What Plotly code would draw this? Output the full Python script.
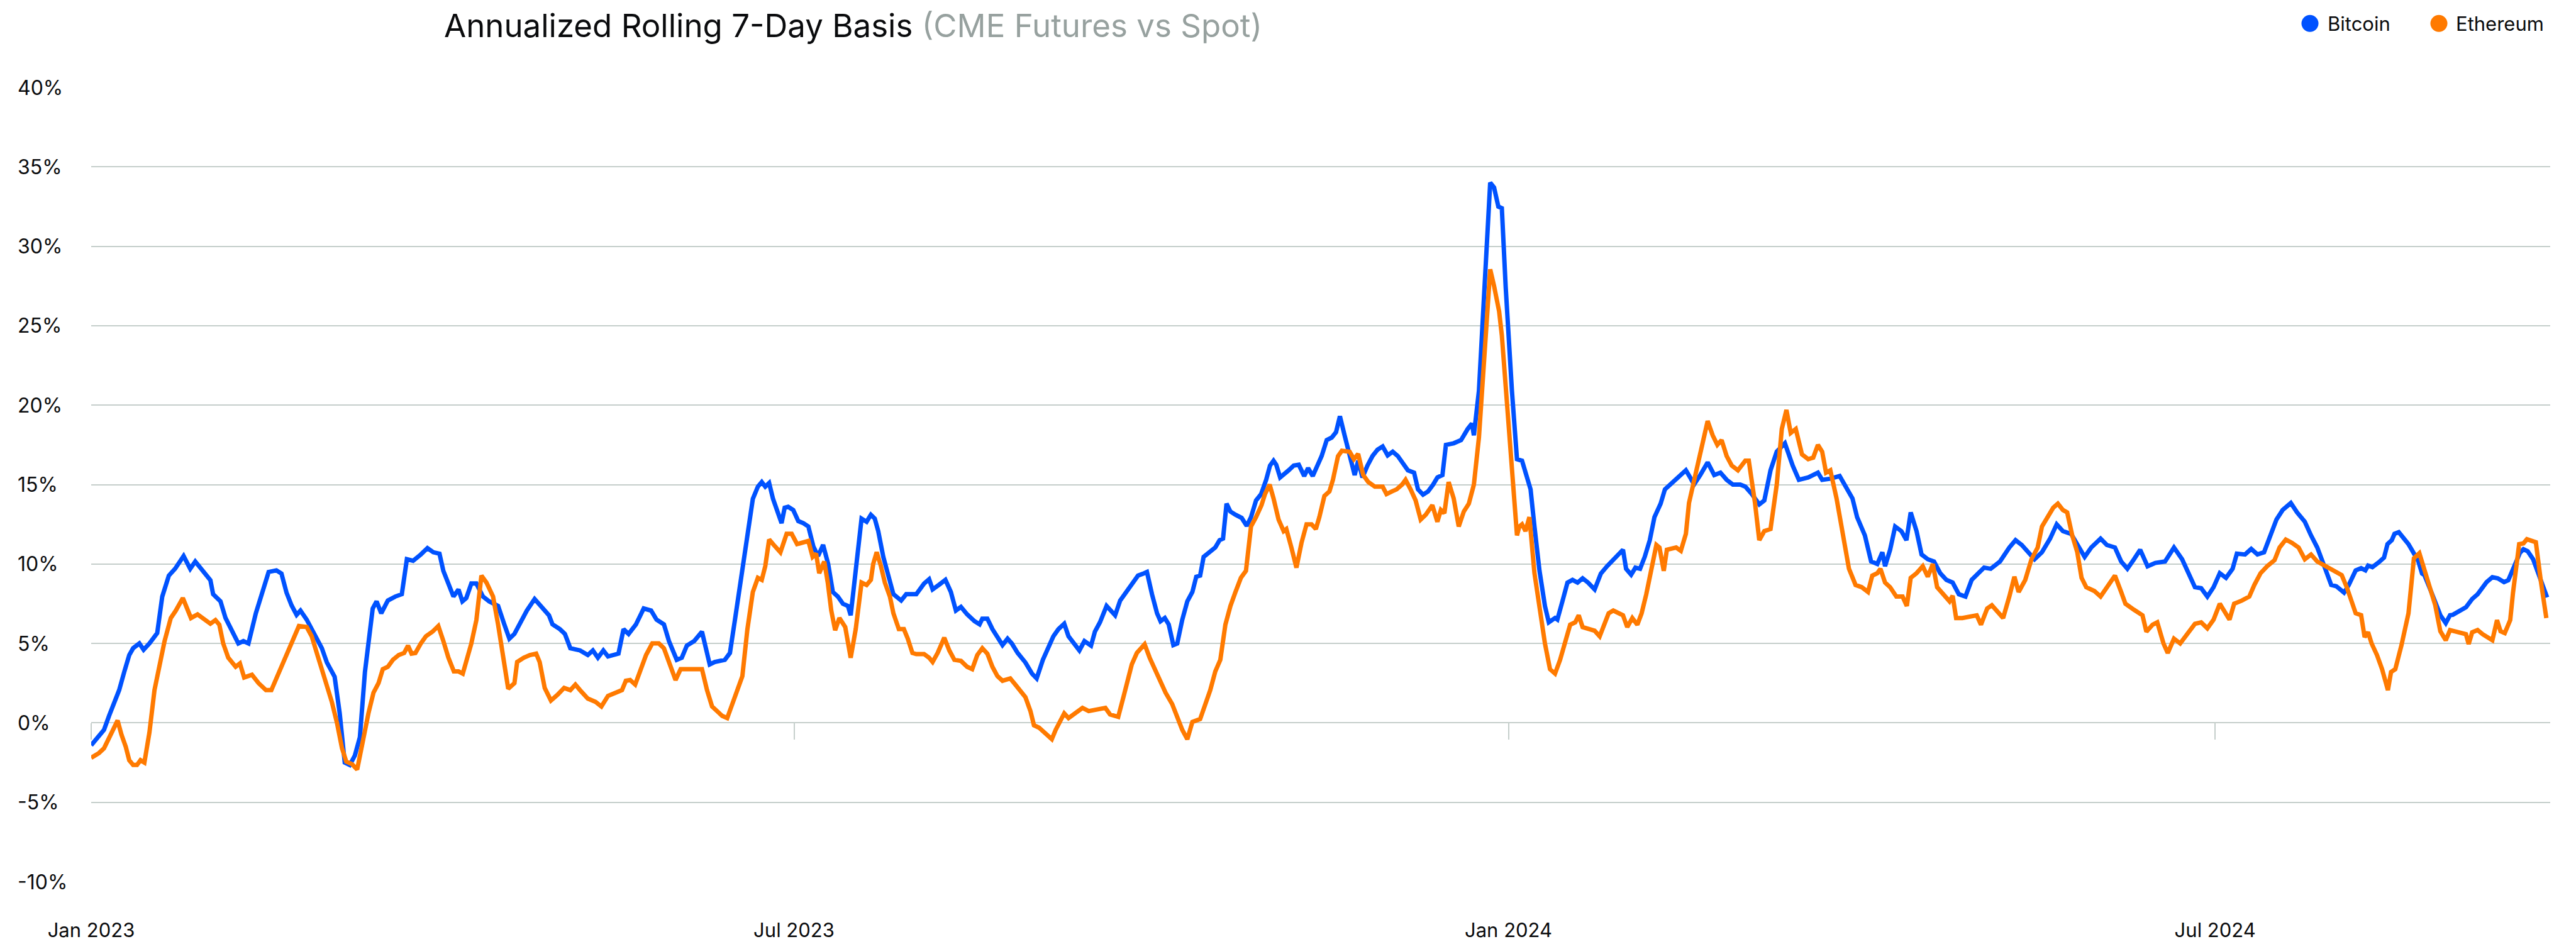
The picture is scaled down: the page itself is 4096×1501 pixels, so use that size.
import numpy as np
import pandas as pd
import plotly.graph_objects as go

# ---------------- data ----------------
start_date = "2023-01-01"
end_offset_days = 633.3  # x-axis right edge, days after start_date

series_names = ["Bitcoin", "Ethereum"]
series_colors = ["#0052ff", "#ff7a00"]

btc_day = [0, 3.3, 4.6, 5.9, 7.2, 8.5, 9.8, 10.8, 12.4, 13.5, 15, 17, 18.3, 20, 21.6, 23.8, 25.5, 26.8, 28.7, 30.7,
           31.4, 33.3, 34.6, 36.6, 37.9, 39.2, 40.5, 42.4, 44.4, 45.7, 47.7, 49, 50.3, 51.6, 52.9, 53.9, 55.5, 57.4,
           59.4, 60.7, 62.7, 64, 65.3, 66.6, 67.9, 69.2, 70.5, 72.5, 73.5, 74.7, 76.4, 78.3, 80, 81.3, 82.9, 84.9,
           86.6, 88.1, 89.7, 90.7, 92, 93.3, 94.6, 95.6, 96.6, 97.9, 99.2, 100.9, 102.5, 104.8, 106.4, 107.7, 109,
           110.6, 112.2, 114.2, 116.2, 117.9, 118.8, 120.7, 122, 123.4, 125.9, 127.9, 129.2, 130.5, 131.9, 133.1,
           135.8, 137.1, 138.4, 140.3, 142.3, 144.2, 145.6, 147.5, 148.8, 150.8, 152.1, 153.4, 155.3, 157.3, 159.3,
           160.6, 163.2, 164.5, 165.8, 167.1, 169, 170.4, 171.7, 172.7, 173.6, 174.6, 175.6, 176.9, 177.8, 178.6,
           179.5, 180.8, 182.1, 183.4, 184.7, 186, 187.2, 188.5, 189.8, 191, 192.3, 193.6, 194.9, 195.6, 196.9,
           198.4, 199.7, 200.8, 201.8, 202.7, 204, 205.3, 206.6, 208.6, 209.9, 212.5, 214.5, 215.8, 216.7, 218.4,
           220, 221.4, 222.7, 224, 225.6, 227.5, 228.8, 229.5, 230.8, 232.1, 233.4, 234.7, 236, 237.1, 238.6, 240.6,
           242.3, 243.5, 245.1, 246.5, 247.8, 249.1, 250.6, 251.7, 253, 254.5, 255.8, 257.5, 258.5, 259.8, 261.5,
           262.4, 263.7, 265, 266.7, 268.4, 269.6, 271.2, 271.9, 273.2, 274.5, 275.4, 276.5, 277.5, 278.7, 279.7,
           281, 282.3, 283.6, 284.6, 285.6, 286.5, 288, 289.5, 290.6, 291.5, 292.4, 293.4, 294.7, 296.3, 297.6,
           298.7, 300, 301.3, 302.6, 303.6, 304.5, 305.2, 306.2, 307.1, 308.4, 309.7, 311, 312.4, 313.4, 314.6,
           315.6, 316.9, 318.2, 319.5, 320.6, 321.6, 322.8, 324.1, 325.4, 326.3, 327.4, 328.7, 330, 331.3, 332.6,
           333.9, 335.2, 336.5, 337.8, 339.1, 340.7, 341.7, 343, 344.3, 345.6, 346.7, 348, 348.9, 350.9, 352.8,
           354.5, 355.6, 356.1, 357.4, 358.7, 360.3, 361.3, 362.4, 363.3, 364.3, 365.9, 367.2, 368.5, 369.8, 370.7,
           371.7, 373, 374.4, 375.4, 377, 377.6, 378.9, 380.2, 381.5, 382.8, 384.1, 385.5, 387.2, 388.8, 390.4, 392,
           393.7, 394.5, 395.3, 396.6, 397.7, 398.9, 400.1, 401.4, 402.6, 404.2, 405.3, 407.4, 409, 410.7, 411.8,
           412.8, 414.4, 416.3, 418, 419.6, 421.2, 422.8, 424.7, 426, 427.7, 429.6, 430.9, 432.5, 434.1, 436.2,
           438.2, 439.8, 442.2, 444.7, 445.8, 447.9, 450.3, 451.9, 453.6, 454.8, 456.8, 458.4, 460, 461.3, 462,
           463.3, 464.6, 466.2, 467.5, 468.6, 470.1, 471.4, 473, 474.6, 476.2, 477.8, 479.4, 481, 482.7, 484.3,
           485.9, 487.5, 489.2, 491.6, 494, 495.6, 497.2, 498.9, 500.5, 502.4, 504.5, 506.2, 507.8, 509.9, 511.8,
           513.4, 515.1, 517.5, 519.1, 521.2, 522.8, 524.4, 526.1, 527.7, 529.6, 531.6, 534.1, 536.4, 538.5, 540.1,
           541.8, 543.4, 545, 546.6, 548.2, 549.8, 551.5, 552.6, 554.7, 556.3, 557.9, 559.6, 561.2, 562.8, 564.4,
           566.5, 568.1, 570.1, 571.7, 573.3, 574.9, 576.9, 578.2, 580.2, 581.4, 583.2, 584.6, 585.7, 586.4, 587.5,
           589.1, 590.5, 591.4, 592.5, 593.2, 594.3, 596.8, 598.2, 599.3, 600.3, 600.9, 602.8, 605, 606.4, 607.5,
           608.2, 609.6, 611.6, 613.2, 614.6, 616.9, 618.4, 619.8, 621.4, 622.5, 623.7, 625.5, 626.4, 627.5, 628.9,
           630.5, 632.5]
btc_val = [-1.41, -0.44, 0.44, 1.18, 2.06, 3.2, 4.27, 4.7, 5.0, 4.6, 5.0, 5.65, 7.95, 9.27, 9.7, 10.5, 9.7, 10.16,
           9.57, 8.98, 8.1, 7.65, 6.6, 5.6, 5.0, 5.15, 5.0, 6.9, 8.5, 9.5, 9.6, 9.4, 8.2, 7.4, 6.8, 7.07, 6.5, 5.6,
           4.7, 3.8, 2.9, 0.6, -2.5, -2.65, -2.06, -0.9, 3.2, 7.2, 7.65, 6.9, 7.7, 7.95, 8.1, 10.3, 10.2, 10.6, 11.0,
           10.74, 10.65, 9.57, 8.8, 7.95, 8.4, 7.65, 7.86, 8.77, 8.77, 7.95, 7.65, 7.36, 6.2, 5.3, 5.6, 6.3, 7.07,
           7.8, 7.2, 6.77, 6.2, 5.9, 5.6, 4.7, 4.56, 4.27, 4.56, 4.1, 4.56, 4.18, 4.36, 5.9, 5.6, 6.2, 7.2, 7.07, 6.5,
           6.2, 5.15, 3.97, 4.1, 4.86, 5.15, 5.74, 3.68, 3.83, 3.97, 4.4, 6.5, 8.7, 11.5, 14.1, 14.87, 15.16, 14.87,
           15.1, 14.1, 13.1, 12.57, 13.54, 13.6, 13.4, 12.7, 12.57, 12.36, 11.1, 10.5, 11.2, 10.0, 8.24, 7.95, 7.5,
           7.36, 6.77, 9.7, 12.86, 12.66, 13.1, 12.86, 12.07, 10.45, 9.27, 8.1, 7.7, 8.1, 8.1, 8.77, 9.04, 8.4, 8.7,
           9.0, 8.24, 7.07, 7.3, 6.83, 6.4, 6.2, 6.56, 6.56, 5.9, 5.4, 4.9, 5.3, 5.0, 4.4, 3.8, 3.1, 2.8, 3.97, 4.7,
           5.45, 5.9, 6.24, 5.45, 5.06, 4.56, 5.15, 4.86, 5.74, 6.33, 7.36, 7.12, 6.77, 7.7, 8.24, 8.83, 9.27, 9.42,
           9.5, 8.1, 6.9, 6.4, 6.6, 6.2, 4.9, 5.0, 6.5, 7.65, 8.24, 9.2, 9.27, 10.45, 10.74, 11.04, 11.5, 11.6, 13.8,
           13.3, 13.1, 12.9, 12.4, 12.95, 14.0, 14.4, 15.3, 16.2, 16.5, 16.25, 15.45, 15.6, 15.9, 16.2, 16.25, 15.54,
           16.04, 15.54, 16.04, 16.8, 17.8, 17.96, 18.3, 19.3, 18.1, 16.84, 15.6, 16.5, 15.45, 16.2, 16.8, 17.2,
           17.4, 16.84, 17.07, 16.8, 16.3, 15.9, 15.75, 14.7, 14.37, 14.57, 15.0, 15.45, 15.6, 17.5, 17.6, 17.8,
           18.5, 18.84, 18.1, 20.9, 26.8, 34.0, 33.7, 32.5, 32.4, 27.4, 20.9, 16.6, 16.5, 15.3, 14.7, 12.36, 9.57,
           7.36, 6.33, 6.6, 6.5, 7.65, 8.83, 9.0, 8.83, 9.1, 8.83, 8.4, 9.4, 9.86, 10.24, 10.74, 10.9, 9.7, 9.33,
           9.77, 9.7, 10.45, 11.5, 12.95, 13.8, 14.7, 15.16, 15.6, 15.9, 15.45, 15.0, 15.6, 16.4, 15.6, 15.75, 15.3,
           15.0, 15.0, 14.87, 14.4, 13.75, 14.0, 15.9, 17.07, 17.6, 16.2, 15.3, 15.45, 15.75, 15.3, 15.37, 15.54,
           14.87, 14.13, 12.95, 11.8, 10.16, 10.0, 10.74, 9.86, 10.9, 12.36, 12.07, 11.5, 13.25, 12.07, 10.6, 10.3,
           10.16, 9.42, 9.0, 8.83, 8.1, 7.95, 9.0, 9.36, 9.77, 9.7, 10.16, 11.04, 11.5, 11.2, 10.74, 10.3, 10.74,
           11.6, 12.5, 12.07, 11.9, 11.04, 10.45, 11.04, 11.6, 11.2, 11.04, 10.16, 9.7, 10.3, 10.9, 9.86, 10.07,
           10.16, 11.04, 10.3, 9.42, 8.54, 8.48, 7.95, 8.54, 9.42, 9.13, 9.7, 10.65, 10.6, 10.95, 10.6, 10.74, 11.8,
           12.8, 13.4, 13.84, 13.25, 12.66, 11.8, 11.04, 10.0, 8.68, 8.6, 8.2, 8.67, 9.6, 9.74, 9.6, 9.9, 9.8, 10.1,
           10.4, 11.25, 11.5, 11.9, 12.0, 11.25, 10.6, 10.2, 9.4, 9.3, 8.16, 6.78, 6.28, 6.78, 6.8, 6.97, 7.28, 7.8,
           8.1, 8.86, 9.17, 9.1, 8.86, 8.98, 9.74, 10.7, 10.93, 10.8, 10.3, 9.3, 7.9]

eth_day = [0, 2, 3.3, 4.6, 5.9, 6.8, 7.8, 8.9, 9.8, 10.8, 11.8, 12.7, 13.7, 15, 16.3, 17.6, 18.9, 20.5, 21.8, 23.6,
           24.8, 25.7, 27.4, 29.1, 30.7, 32, 33, 34, 35.3, 37.2, 38.3, 39.4, 41.4, 43.1, 45, 46.4, 47.9, 49.6, 50.9,
           52.2, 53.5, 55.5, 56.8, 58.1, 59.4, 60.7, 62, 63.3, 64.6, 65.7, 67.2, 68.5, 69.8, 71.4, 72.7, 74, 75.1,
           76.4, 77.7, 79.2, 80.6, 81.6, 82.5, 83.5, 84.9, 86.2, 87.9, 89.4, 90.7, 92, 93.4, 94.6, 95.7, 96.6, 97.9,
           99.2, 100.5, 101.8, 103.5, 104.8, 106.4, 107.4, 109, 109.7, 111.4, 113, 114.6, 115.5, 116.8, 118.4, 120.1,
           121.8, 123.4, 124.7, 125.9, 127.9, 129.9, 131.4, 133.1, 135.1, 136.7, 137.7, 138.8, 140.1, 141.6, 142.9,
           144.5, 146.2, 147.5, 148.8, 150.5, 151.8, 153.4, 155.3, 157.3, 158.6, 159.9, 161.2, 162.5, 163.8, 165.1,
           166.4, 167.7, 169, 170.4, 171.7, 172.7, 173.6, 174.6, 175.8, 177.5, 179.1, 180.4, 181.8, 183.4, 184.7,
           185.8, 186.7, 187.5, 188.8, 189.7, 190.6, 191.6, 192.7, 194.2, 195.6, 196.9, 198.4, 199.7, 200.8, 201.4,
           202.3, 203.4, 204.4, 205.7, 206.6, 208, 209.3, 210.3, 211.5, 212.5, 214.5, 215.8, 216.7, 218, 219.7, 221,
           222.3, 224, 225.6, 226.9, 228.2, 229.5, 230.8, 232.1, 233.4, 234.7, 236.7, 238, 239.3, 240.6, 241.9,
           242.8, 244.1, 245.4, 247.4, 248.4, 249.7, 250.6, 251.7, 253.6, 255.3, 256.9, 259.5, 261.2, 262.4, 264.5,
           266, 268, 269.3, 271.3, 272.6, 273.9, 275.4, 276.7, 278.4, 279.7, 281, 282.3, 283.6, 285.6, 286.9, 288.2,
           289.5, 290.8, 292.1, 293.4, 294.7, 296.1, 297.4, 298.7, 300, 301.4, 302.3, 303.5, 304.5, 305.8, 307.1,
           307.8, 309.1, 310.4, 311.7, 313, 314.3, 315.4, 316.3, 317.6, 318.9, 319.8, 321.1, 322.1, 324.1, 325.2,
           326.3, 327.6, 328.9, 330.6, 332.6, 333.6, 335, 336.2, 337.6, 338.5, 339.8, 341.1, 342.4, 343.7, 345.4,
           346.7, 347.6, 348.5, 349.6, 350.9, 352.2, 353.5, 354.8, 356.1, 357.4, 358.7, 360.3, 361.3, 362.6, 363.3,
           364.6, 365.9, 367.2, 367.8, 368.5, 369.4, 370.4, 371.7, 373, 374.4, 375.7, 377, 378.3, 379.6, 380.9,
           382.2, 383.1, 384.1, 385.5, 387.2, 388.5, 389.6, 390.8, 392, 393.7, 394.5, 395.6, 396.9, 398.2, 399.3,
           400.5, 401.8, 403.1, 403.9, 405, 405.8, 408.2, 409.4, 410.7, 411.5, 412.6, 413.9, 415, 416.3, 417.6,
           418.8, 419.9, 421.2, 422.5, 424.1, 426, 426.9, 428.5, 429.6, 430.9, 432.5, 434.1, 435.4, 436.6, 437.7,
           439, 440.6, 442.2, 443.5, 444.7, 445.8, 446.8, 447.9, 449.5, 451.1, 452.7, 454.4, 456, 457.6, 458.7, 460,
           460.8, 462, 463.3, 464.9, 466.5, 467.6, 468.6, 470.1, 471.7, 473, 474.3, 475.4, 477, 478.6, 479.4, 480.3,
           481.9, 484, 485.6, 486.7, 488.3, 489.5, 491.1, 492.4, 494, 495.3, 496.4, 498.1, 499.7, 501.3, 502.4, 504,
           505.3, 506.5, 507.8, 508.9, 510.2, 511.5, 512.6, 513.8, 515.9, 517.5, 519.1, 521.2, 522.8, 523.9, 526.1,
           528.3, 529.3, 530.9, 532.1, 533.7, 534.8, 536.4, 538, 540.1, 541.8, 543.4, 545, 546.6, 548.2, 550.7,
           551.9, 553.9, 555.8, 557.1, 558.7, 560.4, 562.3, 563.6, 565.2, 566.8, 568.5, 570.1, 571.7, 573.3, 575.7,
           578.2, 579.6, 580.9, 582.1, 583.2, 584.6, 585.5, 586.4, 587.3, 588.7, 590, 591.5, 592.3, 593.4, 595,
           596.8, 598.2, 599.6, 601.4, 603.7, 605, 606.4, 607.5, 608.7, 610.5, 611.6, 612.3, 613.2, 614.6, 615.9,
           618.4, 619.6, 620.5, 621.6, 623, 623.7, 625.3, 626.4, 627.3, 629.6, 630.9, 632.3]
eth_val = [-2.2, -1.9, -1.6, -0.9, -0.3, 0.15, -0.74, -1.5, -2.35, -2.65, -2.65, -2.35, -2.5, -0.6, 2.06, 3.68, 5.15,
           6.6, 7.07, 7.86, 7.07, 6.6, 6.83, 6.5, 6.24, 6.47, 6.18, 5.0, 4.1, 3.53, 3.74, 2.86, 3.03, 2.5, 2.06, 2.06,
           2.94, 3.83, 4.56, 5.3, 6.1, 6.03, 5.45, 4.4, 3.38, 2.5, 1.3, 0.0, -1.6, -2.44, -2.6, -2.94, -1.18, 0.6,
           1.9, 2.5, 3.38, 3.53, 3.97, 4.27, 4.4, 4.86, 4.36, 4.4, 5.0, 5.45, 5.74, 6.1, 5.15, 4.1, 3.24, 3.24, 3.1,
           3.83, 5.0, 6.47, 9.27, 8.83, 7.95, 6.18, 3.68, 2.15, 2.5, 3.83, 4.1, 4.27, 4.36, 3.83, 2.2, 1.41, 1.77,
           2.2, 2.06, 2.41, 2.06, 1.53, 1.32, 1.03, 1.7, 1.9, 2.06, 2.65, 2.7, 2.41, 3.38, 4.27, 5.0, 5.0, 4.7, 3.83,
           2.7, 3.38, 3.38, 3.38, 3.38, 2.06, 1.03, 0.74, 0.44, 0.3, 1.18, 2.2, 2.94, 5.9, 8.24, 9.13, 9.0, 9.86,
           11.54, 11.2, 10.74, 11.9, 11.9, 11.25, 11.33, 11.45, 10.45, 10.65, 9.42, 10.16, 8.83, 7.07, 5.83, 6.6,
           6.03, 4.1, 5.9, 8.83, 8.68, 9.0, 10.0, 10.74, 9.86, 8.83, 7.95, 6.9, 5.9, 5.9, 5.3, 4.4, 4.33, 4.33, 4.1,
           3.83, 4.4, 5.36, 4.56, 3.97, 3.9, 3.53, 3.38, 4.27, 4.7, 4.36, 3.53, 2.94, 2.65, 2.8, 2.41, 2.06, 1.62,
           0.74, -0.15, -0.3, -0.6, -1.03, -0.44, 0.15, 0.6, 0.3, 0.6, 0.94, 0.74, 0.88, 0.94, 0.53, 0.38, 1.77,
           3.68, 4.4, 4.95, 4.1, 3.38, 2.65, 1.9, 1.18, 0.3, -0.44, -1.03, 0.06, 0.24, 1.18, 2.06, 3.24, 3.97, 6.18,
           7.36, 8.24, 9.13, 9.57, 12.36, 12.95, 13.7, 14.4, 15.0, 14.13, 12.8, 12.07, 12.2, 11.04, 9.77, 11.33,
           12.5, 12.5, 12.2, 12.95, 14.28, 14.57, 15.3, 16.78, 17.13, 17.07, 16.6, 16.93, 15.6, 15.16, 14.87, 14.87,
           14.4, 14.57, 14.7, 15.0, 15.3, 14.7, 14.0, 12.8, 13.1, 13.7, 12.66, 13.4, 13.2, 15.16, 14.13, 12.36, 13.3,
           13.8, 15.0, 17.96, 22.4, 28.55, 27.5, 25.9, 24.4, 20.0, 15.6, 11.8, 12.36, 12.5, 12.07, 12.95, 9.42, 7.07,
           5.0, 3.38, 3.1, 3.97, 5.0, 6.18, 6.33, 6.77, 6.03, 5.9, 5.8, 5.45, 6.18, 6.9, 7.07, 6.9, 6.77, 6.03, 6.6,
           6.18, 6.9, 8.1, 9.57, 11.2, 11.04, 9.57, 10.9, 11.04, 10.83, 11.9, 13.84, 15.0, 16.34, 17.37, 19.0, 18.1,
           17.5, 17.8, 16.8, 16.2, 15.9, 16.5, 16.5, 13.84, 11.5, 12.07, 12.2, 15.0, 18.5, 19.7, 18.25, 18.5, 16.9,
           16.6, 16.7, 17.5, 17.07, 15.75, 15.9, 14.13, 11.8, 9.7, 8.68, 8.54, 8.24, 9.27, 9.42, 9.7, 8.83, 8.54,
           7.95, 7.95, 7.36, 9.13, 9.42, 9.86, 9.2, 10.0, 8.54, 8.1, 7.65, 8.0, 6.6, 6.6, 6.7, 6.77, 6.18, 7.2, 7.4,
           6.9, 6.6, 7.95, 9.2, 8.24, 9.0, 10.3, 11.04, 12.36, 12.95, 13.54, 13.8, 13.4, 13.25, 11.8, 10.74, 9.13,
           8.54, 8.3, 7.95, 8.54, 9.27, 8.24, 7.5, 7.12, 6.77, 5.74, 6.18, 6.33, 5.0, 4.4, 5.3, 5.0, 5.74, 6.24, 6.33,
           5.95, 6.5, 7.5, 6.5, 7.5, 7.7, 7.95, 8.68, 9.42, 9.86, 10.24, 11.04, 11.54, 11.33, 11.04, 10.3, 10.6,
           10.16, 9.86, 9.5, 9.3, 8.54, 7.72, 6.9, 6.78, 5.4, 5.7, 5.0, 4.26, 3.38, 2.06, 3.2, 3.38, 4.9, 6.9, 10.36,
           10.68, 9.3, 7.4, 5.77, 5.2, 5.84, 5.77, 5.65, 5.58, 4.96, 5.7, 5.84, 5.58, 5.2, 6.47, 5.77, 5.65, 6.47,
           8.16, 11.25, 11.3, 11.56, 11.37, 8.9, 6.6]

y_tick_vals = [40, 35, 30, 25, 20, 15, 10, 5, 0, -5, -10]
y_tick_labels = ["40%", "35%", "30%", "25%", "20%", "15%", "10%", "5%", "0%", "-5%", "-10%"]

title_main = "Annualized Rolling 7-Day Basis"
title_sub = "(CME Futures vs Spot)"

# ---------------- build ----------------
FONT = "Inter"
TEXT = "#0a0b0d"
GRID = "#c5cecb"

base = pd.Timestamp(start_date)
btc_x = base + pd.to_timedelta(np.array(btc_day), unit="D")
eth_x = base + pd.to_timedelta(np.array(eth_day), unit="D")
x_end = base + pd.to_timedelta(end_offset_days, unit="D")

W, H = 4096, 1501
ML, MR, MT, MB = 137, 49, 131, 91
PW, PH = W - ML - MR, H - MT - MB

fig = go.Figure()
fig.add_trace(go.Scatter(x=btc_x, y=btc_val, mode="lines", name=series_names[0],
                         line=dict(color=series_colors[0], width=7), showlegend=False))
fig.add_trace(go.Scatter(x=eth_x, y=eth_val, mode="lines", name=series_names[1],
                         line=dict(color=series_colors[1], width=7), showlegend=False))
# empty trace to carry the secondary x axis (tick marks on the 0% line)
fig.add_trace(go.Scatter(x=[], y=[], xaxis="x2", yaxis="y", showlegend=False, hoverinfo="skip"))

x_range = [base, x_end]

fig.update_layout(
    width=W, height=H,
    margin=dict(l=ML, r=MR, t=MT, b=MB, pad=0),
    paper_bgcolor="white", plot_bgcolor="white",
    font=dict(family=FONT, color=TEXT),
    showlegend=False,
    title=dict(
        text=f"{title_main} <span style='color:#97a19f'>{title_sub}</span>",
        font=dict(family=FONT, size=51, color=TEXT),
        xref="container", yref="container",
        x=698 / W, xanchor="left", y=1 - 33 / H, yanchor="middle",
    ),
    xaxis=dict(
        type="date", range=x_range, tick0=start_date, dtick="M6", tickformat="%b %Y",
        showgrid=False, zeroline=False, showline=False, ticks="",
        tickfont=dict(family=FONT, size=31, color=TEXT), ticklabelstandoff=56,
    ),
    xaxis2=dict(
        type="date", range=x_range, tick0=start_date, dtick="M6", overlaying="x",
        anchor="free", position=0.2, side="bottom",
        showgrid=False, zeroline=False, showline=False, showticklabels=False,
        ticks="outside", ticklen=26, tickwidth=2, tickcolor=GRID,
    ),
    yaxis=dict(
        range=[-10, 40], tickvals=y_tick_vals, showticklabels=False,
        showgrid=True, gridcolor=GRID, gridwidth=2, zeroline=False, showline=False, ticks="",
    ),
)

# y tick labels (left aligned, as in the reference)
for v, lab in zip(y_tick_vals, y_tick_labels):
    fig.add_annotation(x=(18 - ML) / PW, xref="paper", y=v, yref="y", text=lab, showarrow=False,
                       xanchor="left", yanchor="middle", font=dict(family=FONT, size=32, color=TEXT))

# legend (dot + label), top right
leg_y = 1 + (MT - 28) / PH
leg_items = [(3665, 3691), (3870, 3895)]
for (cx, tx), name, col in zip(leg_items, series_names, series_colors):
    fig.add_shape(type="circle", xref="paper", yref="paper", xsizemode="pixel", ysizemode="pixel",
                  xanchor=(cx - ML) / PW, yanchor=leg_y, x0=-13.5, x1=13.5, y0=-13.5, y1=13.5,
                  fillcolor=col, line=dict(width=0))
    fig.add_annotation(x=(tx - ML) / PW, xref="paper", y=leg_y, yref="paper", text=name, showarrow=False,
                       xanchor="left", yanchor="middle", font=dict(family=FONT, size=31, color=TEXT))

fig.write_html("out.html")
